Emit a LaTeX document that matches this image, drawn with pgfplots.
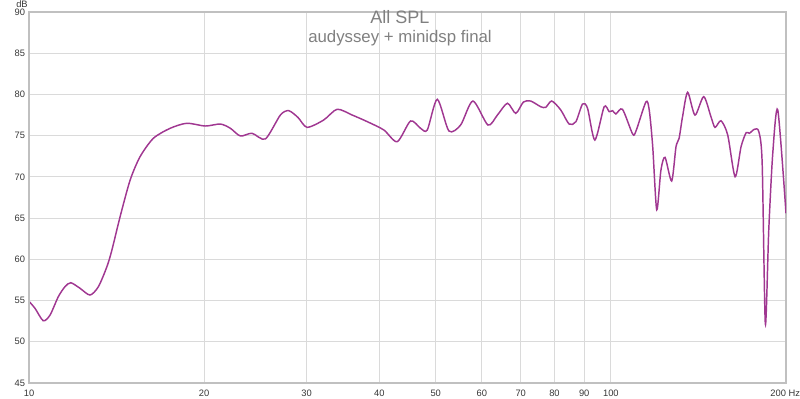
\documentclass[border=0pt]{standalone}
\usepackage{fontspec}
\setmainfont{Liberation Sans}
\usepackage{pgfplots}
\pgfplotsset{compat=1.18}
\definecolor{curve}{RGB}{160,55,145}
\definecolor{gridc}{RGB}{218,218,218}
\definecolor{framec}{RGB}{192,192,192}
\definecolor{titlec}{RGB}{128,128,128}
\definecolor{tickc}{RGB}{55,55,55}
\begin{document}
\begin{tikzpicture}
\useasboundingbox (-21.75pt,-12pt) rectangle (578.25pt,287.25pt);
\begin{axis}[
  at={(0,0)}, anchor=south west,
  scale only axis, width=567.75pt, height=278.25pt,
  xmode=log,
  xmin=10, xmax=200, ymin=45, ymax=90,
  xtick={10,20,30,40,50,60,70,80,90,100,200},
  xticklabels={10,20,30,40,50,60,70,80,90,100,{\makebox[0pt][r]{200}\makebox[0pt][l]{\ Hz}}},
  ytick={45,50,...,90},
  minor xtick={},
  grid=major,
  major grid style={gridc, line width=0.75pt},
  major tick length=0pt,
  axis line style={framec, line width=1pt},
  tick label style={font=\fontsize{7}{8}\selectfont, text=tickc},
  xticklabel style={yshift=-1.5pt},
  yticklabel style={xshift=0.5pt},
  /pgf/number format/assume math mode=true,
  clip=true,
]
\addplot[curve, line width=1.1pt, smooth, tension=0.45] coordinates {
(10.00,54.9) (10.24,54.06) (10.58,52.55) (10.87,53.25) (11.23,55.47) (11.53,56.68)
(11.80,57.16) (12.24,56.48) (12.73,55.67) (13.16,56.68) (13.61,59.1) (13.88,61.1)
(14.34,65.17) (14.92,69.6) (15.52,72.45) (16.36,74.68) (17.48,75.89) (18.67,76.5)
(20.09,76.17) (21.32,76.41) (22.18,75.9) (23.08,74.96) (24.17,75.29) (25.48,74.6)
(27.04,77.5) (27.95,78.03) (29.0,77.2) (30.06,76.01) (32.10,76.9) (33.85,78.2)
(35.93,77.5) (38.14,76.7) (40.72,75.69) (42.94,74.27) (45.26,76.78) (47.10,75.89)
(48.36,75.69) (50.31,79.41) (52.68,75.57) (55.18,76.29) (57.94,79.2) (61.48,76.29)
(63.83,77.5) (66.41,78.93) (68.64,77.71) (70.75,79.08) (72.83,79.2) (75.77,78.51)
(77.29,78.44) (79.15,79.2) (82.02,78.11) (84.77,76.41) (87.06,76.69) (89.40,78.84)
(91.19,78.32) (93.86,74.47) (97.38,78.51) (99.33,77.91) (100.7,78.03) (102.0,77.63)
(104.7,78.2) (109.0,75.2) (110.5,75.6) (114.9,79.1) (116.4,78.1) (118.0,73.7)
(119.9,66.0) (121.9,70.8) (123.9,72.37) (127.2,69.5) (129.4,73.66) (131.0,74.68)
(132.8,77.3) (135.5,80.26) (139.5,77.5) (144.4,79.73) (148.6,77.3) (151.0,76.0)
(154.6,76.81) (158.8,75.08) (163.5,70.02) (167.4,73.66) (170.8,75.36) (173.0,75.29)
(176.5,75.77) (179.6,75.48) (182.0,71.65) (184.3,52.15) (186.8,63.56) (189.8,72.86)
(193.6,78.11) (200.0,65.58)
};
\draw[framec, line width=2.2pt] (rel axis cs:0,1) -- (rel axis cs:0,0) -- (rel axis cs:1,0);
\end{axis}
\node[font=\fontsize{13.5}{15}\selectfont, text=titlec] at (278.25pt,274.5pt) {All SPL};
\node[font=\fontsize{12.6}{15}\selectfont, text=titlec] at (278.25pt,258.75pt) {audyssey + minidsp final};
\node[font=\fontsize{7}{8}\selectfont, text=tickc] at (-5.25pt,284.25pt) {dB};
\end{tikzpicture}
\end{document}
